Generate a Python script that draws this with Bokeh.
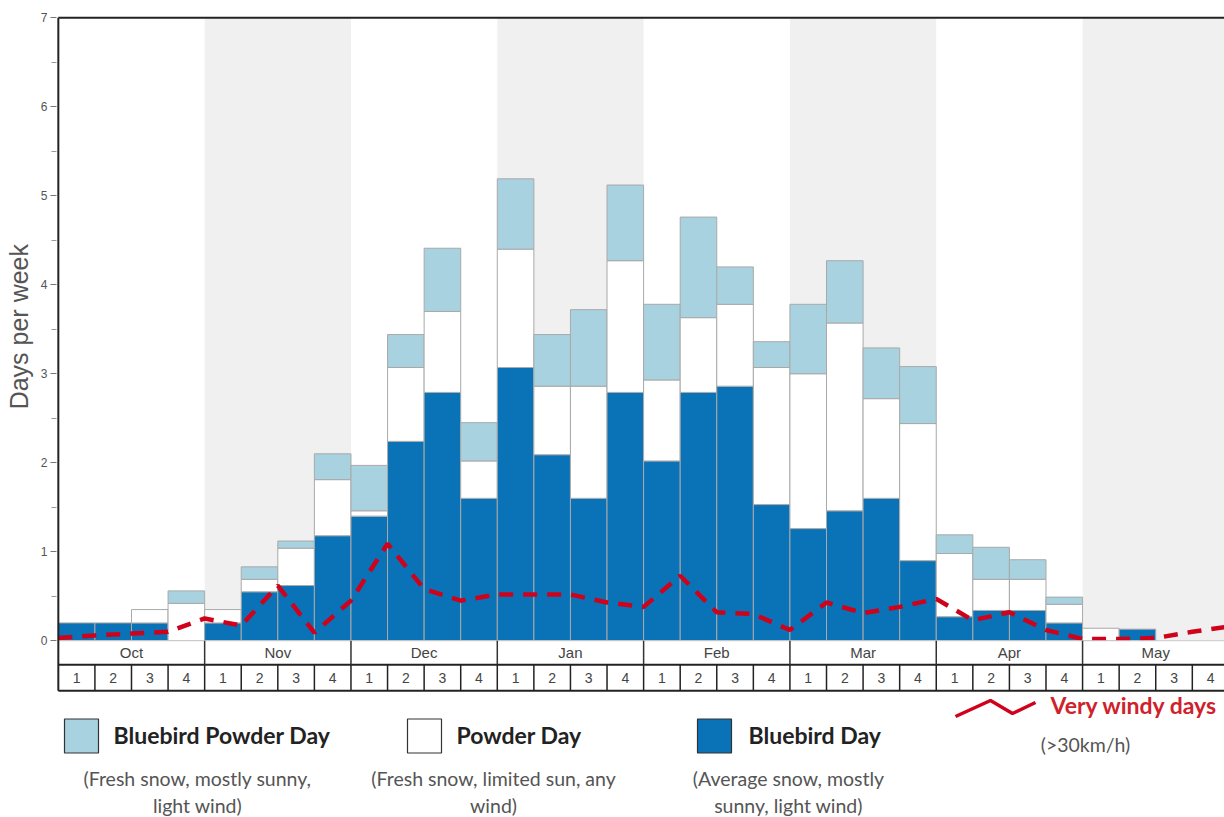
import math
from bokeh.plotting import figure
from bokeh.layouts import row
from bokeh.models import Range1d, FixedTicker
from bokeh.core.properties import value
from bokeh.embed import file_html
from bokeh.resources import INLINE

# ---------------- data ----------------
months = ["Oct", "Nov", "Dec", "Jan", "Feb", "Mar", "Apr", "May"]
week_labels = ["1", "2", "3", "4"]

# days per week for each of the 32 weeks (segment heights, stacked bottom -> top)
bluebird = [0.2, 0.2, 0.2, 0.0, 0.2, 0.55, 0.62, 1.18,
            1.4, 2.24, 2.79, 1.6, 3.07, 2.09, 1.6, 2.79,
            2.02, 2.79, 2.86, 1.53, 1.26, 1.46, 1.6, 0.9,
            0.27, 0.34, 0.34, 0.2, 0.0, 0.13, 0.0, 0.0]
powder = [0.0, 0.0, 0.15, 0.42, 0.15, 0.14, 0.42, 0.63,
          0.06, 0.83, 0.91, 0.42, 1.33, 0.77, 1.26, 1.48,
          0.91, 0.84, 0.92, 1.54, 1.74, 2.11, 1.12, 1.54,
          0.71, 0.35, 0.35, 0.21, 0.14, 0.0, 0.0, 0.0]
bluebird_powder = [0.0, 0.0, 0.0, 0.14, 0.0, 0.14, 0.08, 0.29,
                   0.51, 0.37, 0.71, 0.43, 0.79, 0.58, 0.86, 0.85,
                   0.85, 1.13, 0.42, 0.29, 0.78, 0.70, 0.57, 0.64,
                   0.21, 0.36, 0.22, 0.08, 0.0, 0.0, 0.0, 0.0]
# very windy days, at the week boundaries (33 points)
windy = [0.03, 0.06, 0.08, 0.10, 0.25, 0.17, 0.62, 0.09,
         0.45, 1.09, 0.58, 0.45, 0.52, 0.52, 0.52, 0.43,
         0.38, 0.73, 0.32, 0.30, 0.12, 0.43, 0.31, 0.38,
         0.47, 0.23, 0.32, 0.12, 0.02, 0.02, 0.03, 0.10, 0.16]

y_title = "Days per week"
legend_titles = ["Bluebird Powder Day", "Powder Day", "Bluebird Day", "Very windy days"]
legend_notes = [["(Fresh snow, mostly sunny,", "light wind)"],
                ["(Fresh snow, limited sun, any", "wind)"],
                ["(Average snow, mostly", "sunny, light wind)"],
                ["(>30km/h)"]]

# ---------------- styling / layout ----------------
C_BLUE = "#0a72b6"
C_LIGHT = "#a8d2df"
C_WHITE = "#ffffff"
C_BAND = "#f0f0f0"
C_RED = "#d0021b"
C_EDGE = "#a9a9a9"

TOTAL_W, H = 1224, 817
LBL_W = 36                 # narrow strip holding the rotated y title
W = TOTAL_W - LBL_W
MB_LEFT, MB_TOP = 20, 15
X0 = -0.05
Y1 = 7.025
PPU = 89.0                 # pixels per day
PPW = 36.58                # pixels per week
frame_w = W - MB_LEFT
frame_h = H - MB_TOP
X1 = X0 + frame_w / PPW
Y0 = Y1 - frame_h / PPU
FL = LBL_W + MB_LEFT
FT = MB_TOP


def dx(px):
    return X0 + (px - FL) / PPW


def dy(py):
    return Y1 - (py - FT) / PPU


ROW1 = -24 / PPU
ROW2 = -50 / PPU
NW = len(bluebird)

# ---- strip with the y title ----
pl = figure(width=LBL_W, height=H, output_backend="svg", toolbar_location=None,
            x_range=Range1d(0, LBL_W), y_range=Range1d(0, H),
            x_axis_type=None, y_axis_type=None, min_border=0)
pl.outline_line_color = None
pl.xgrid.visible = False
pl.ygrid.visible = False
pl.text(x=[18], y=[H - 317], text=[y_title], angle=math.pi / 2,
        text_font=value("Liberation Sans"), text_font_size="25px",
        text_color="#555", text_align="center", text_baseline="middle")

# ---- main chart ----
p = figure(width=W, height=H, output_backend="svg", toolbar_location=None,
           x_range=Range1d(X0, X1), y_range=Range1d(Y0, Y1),
           x_axis_type=None, min_border_left=MB_LEFT, min_border_right=0,
           min_border_top=MB_TOP, min_border_bottom=0)
p.outline_line_color = None
p.xgrid.visible = False
p.ygrid.visible = False
p.background_fill_color = "white"
p.border_fill_color = "white"

ax = p.yaxis[0]
ax.ticker = FixedTicker(ticks=list(range(0, 8)),
                        minor_ticks=[k + 0.5 for k in range(0, 7)])
ax.axis_line_color = None
ax.major_tick_in = 0
ax.major_tick_out = 6
ax.minor_tick_in = 0
ax.minor_tick_out = 5
ax.major_tick_line_color = "#777"
ax.minor_tick_line_color = "#999"
ax.major_label_text_font = "Liberation Sans"
ax.major_label_text_font_size = "12px"
ax.major_label_text_color = "#555"
ax.major_label_standoff = 3

# gray bands for alternate months
band_l = [4 * m for m in range(len(months)) if m % 2 == 1]
p.quad(left=band_l, right=[b + 4 for b in band_l], bottom=0, top=7,
       fill_color=C_BAND, line_color=None)

# stacked bars
xs, bots, tops, cols = [], [], [], []
for i in range(NW):
    base = 0.0
    for h, c in ((bluebird[i], C_BLUE), (powder[i], C_WHITE), (bluebird_powder[i], C_LIGHT)):
        if h > 0:
            xs.append(i + 0.5)
            bots.append(base)
            tops.append(base + h)
            cols.append(c)
        base += h
p.vbar(x=xs, width=1, bottom=bots, top=tops, fill_color=cols,
       line_color=C_EDGE, line_width=1)

# windy line
p.line(x=list(range(len(windy))), y=windy, line_color=C_RED, line_width=4.5,
       line_dash="14 10")

# month / week rows
p.quad(left=0, right=32, bottom=ROW2, top=0, fill_color="white", line_color=None)
p.segment(x0=0, y0=0, x1=32, y1=0, line_color="#c8c8c8", line_width=1)
p.segment(x0=0, y0=ROW1, x1=32, y1=ROW1, line_color="#222", line_width=2)
p.segment(x0=0, y0=ROW2, x1=32, y1=ROW2, line_color="#222", line_width=2)
mb = [4 * m for m in range(1, len(months))]
p.segment(x0=mb, y0=0, x1=mb, y1=ROW1, line_color="#333", line_width=1.5)
wb = list(range(1, NW))
p.segment(x0=wb, y0=ROW1, x1=wb, y1=ROW2, line_color="#222", line_width=1.5)
p.text(x=[4 * m + 2 for m in range(len(months))], y=[ROW1 / 2] * len(months),
       text=months, text_font=value("Liberation Sans"), text_font_size="15px",
       text_color="#444", text_align="center", text_baseline="middle")
p.text(x=[i + 0.5 for i in range(NW)], y=[(ROW1 + ROW2) / 2] * NW,
       text=[week_labels[i % 4] for i in range(NW)],
       text_font=value("Liberation Sans"), text_font_size="14px",
       text_color="#444", text_align="center", text_baseline="middle")

# left axis line and top border
p.segment(x0=0, y0=ROW2, x1=0, y1=7, line_color="#222", line_width=2)
p.segment(x0=0, y0=7, x1=32, y1=7, line_color="#222", line_width=2)

# legend
sq_x = [81, 424, 714]
sq_col = [C_LIGHT, C_WHITE, C_BLUE]
p.rect(x=[dx(v) for v in sq_x], y=[dy(735.5)] * 3, width=34, height=34,
       width_units="screen", height_units="screen", fill_color=sq_col,
       line_color="#333", line_width=1.2)
title_x = [113, 456, 748]
p.text(x=[dx(v) for v in title_x], y=[dy(734)] * 3, text=legend_titles[:3],
       text_font=value("Lato"), text_font_style="bold", text_font_size="23px",
       text_color="#222", text_align="left", text_baseline="middle")
note_x = [197, 493, 788]
nx, ny, nt = [], [], []
for k in range(3):
    for j, line in enumerate(legend_notes[k]):
        nx.append(dx(note_x[k]))
        ny.append(dy(778 + 27 * j))
        nt.append(line)
nx.append(dx(1085))
ny.append(dy(744))
nt.append(legend_notes[3][0])
p.text(x=nx, y=ny, text=nt, text_font=value("Lato"), text_font_size="19.5px",
       text_color="#555", text_align="center", text_baseline="middle")
zz_x = [955, 990, 1012, 1035]
zz_y = [716, 700, 713, 702]
p.line(x=[dx(v) for v in zz_x], y=[dy(v) for v in zz_y],
       line_color=C_RED, line_width=3.5)
p.text(x=[dx(1050)], y=[dy(704)], text=[legend_titles[3]],
       text_font=value("Lato"), text_font_style="bold", text_font_size="23px",
       text_color="#d0212b", text_align="left", text_baseline="middle")

layout = row(pl, p, spacing=0)
open("out.html", "w").write(file_html(layout, INLINE))
